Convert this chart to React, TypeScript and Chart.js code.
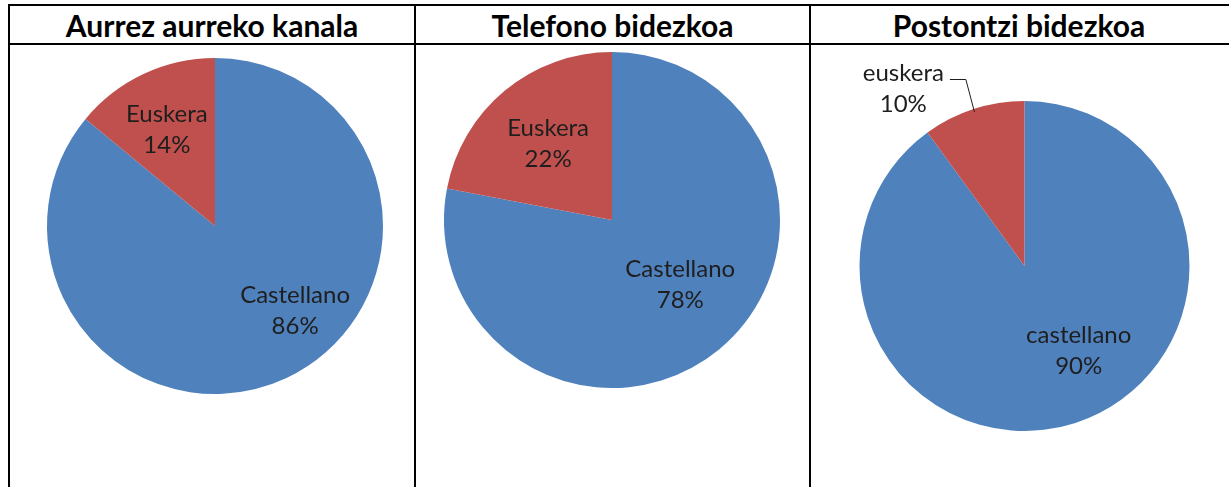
import React, { useEffect, useRef } from "react";
import { Chart, registerables } from "chart.js";

Chart.register(...registerables);

// ---- data ----
const titles = ["Aurrez aurreko kanala", "Telefono bidezkoa", "Postontzi bidezkoa"];
const categories1 = ["Castellano", "Euskera"];
const categories2 = ["Castellano", "Euskera"];
const categories3 = ["castellano", "euskera"];
const values1 = [86, 14];
const values2 = [78, 22];
const values3 = [90, 10];
const sliceColors = ["#4F81BD", "#C0504D"];

// ---- layout ----
const vLines = [8, 414, 809, 1227];
const lineW = 2;
const topLine = 4;
const headLine = 43;
const bodyTop = headLine + lineW;
const pageH = 487;
const labelFont = "Lato, 'DejaVu Sans', sans-serif";

type Placement = { angle: number; frac: number; leader?: boolean };

const pies = [
  {
    categories: categories1,
    values: values1,
    center: [215, 226],
    radius: 168,
    placements: [
      { angle: 136.7, frac: 0.695 },
      { angle: -26.6, frac: 0.64 },
    ] as Placement[],
  },
  {
    categories: categories2,
    values: values2,
    center: [612, 220],
    radius: 168,
    placements: [
      { angle: 133.5, frac: 0.56 },
      { angle: -40.1, frac: 0.59 },
    ] as Placement[],
  },
  {
    categories: categories3,
    values: values3,
    center: [1024.5, 266],
    radius: 165,
    placements: [
      { angle: 147.4, frac: 0.61 },
      { angle: -34.4, frac: 1.3, leader: true },
    ] as Placement[],
  },
];

const sliceLabelPlugin = {
  id: "sliceLabels",
  afterDatasetsDraw(chart: any, _args: any, opts: any) {
    const placements: Placement[] = opts.placements || [];
    const ctx = chart.ctx;
    const meta = chart.getDatasetMeta(0);
    const data: number[] = chart.data.datasets[0].data;
    const total = data.reduce((a, b) => a + b, 0);
    const lh = 31;
    ctx.save();
    ctx.font = `24px ${labelFont}`;
    ctx.fillStyle = "#1e1e1e";
    ctx.textAlign = "center";
    ctx.textBaseline = "middle";
    meta.data.forEach((arc: any, i: number) => {
      const p = placements[i];
      if (!p) return;
      const { x, y, outerRadius, startAngle, endAngle } = arc.getProps(
        ["x", "y", "outerRadius", "startAngle", "endAngle"],
        true
      );
      const a = ((p.angle - 90) * Math.PI) / 180;
      const cx = x + Math.cos(a) * outerRadius * p.frac;
      const cy = y + Math.sin(a) * outerRadius * p.frac;
      const name = chart.data.labels[i];
      const pct = Math.round((data[i] / total) * 100) + "%";
      ctx.fillText(name, cx, cy - lh / 2);
      ctx.fillText(pct, cx, cy + lh / 2);
      if (p.leader) {
        const w = ctx.measureText(name).width;
        const sx = cx + w / 2 + 6;
        const sy = cy - lh / 2 + 6;
        const mid = (startAngle + endAngle) / 2;
        const ex = x + Math.cos(mid) * (outerRadius - 3);
        const ey = y + Math.sin(mid) * (outerRadius - 3);
        ctx.beginPath();
        ctx.strokeStyle = "#1e1e1e";
        ctx.lineWidth = 1;
        ctx.moveTo(sx, sy);
        ctx.lineTo(sx + 16, sy);
        ctx.lineTo(ex, ey);
        ctx.stroke();
      }
    });
    ctx.restore();
  },
};

function PieCell({ idx }: { idx: number }) {
  const ref = useRef<HTMLCanvasElement | null>(null);
  const pie = pies[idx];
  const left = vLines[idx] + lineW;
  const width = vLines[idx + 1] - left;
  const top = bodyTop;
  const height = pageH - top;
  useEffect(() => {
    if (!ref.current) return;
    const [cx, cy] = pie.center;
    const r = pie.radius;
    const chart = new Chart(ref.current, {
      type: "pie",
      data: {
        labels: pie.categories,
        datasets: [
          {
            data: pie.values,
            backgroundColor: sliceColors,
            borderWidth: 0,
            hoverOffset: 0,
          },
        ],
      },
      options: {
        responsive: false,
        animation: false,
        rotation: 0,
        layout: {
          padding: {
            left: cx - r - left,
            top: cy - r - top,
            right: left + width - (cx + r),
            bottom: top + height - (cy + r),
          },
        },
        plugins: {
          legend: { display: false },
          title: { display: false },
          tooltip: { enabled: false },
          sliceLabels: { placements: pie.placements },
        } as any,
      },
      plugins: [sliceLabelPlugin],
    });
    return () => chart.destroy();
  }, []);
  return (
    <canvas
      ref={ref}
      width={width}
      height={height}
      style={{ position: "absolute", left, top, width, height }}
    />
  );
}

export default function App() {
  const lineStyle = { position: "absolute" as const, background: "#000" };
  return (
    <div
      style={{
        position: "fixed",
        left: 0,
        top: 0,
        width: 1229,
        height: pageH,
        background: "#fff",
        overflow: "hidden",
      }}
    >
      {[0, 1, 2].map((i) => (
        <PieCell key={i} idx={i} />
      ))}
      {titles.map((t, i) => {
        const left = vLines[i] + lineW;
        const width = vLines[i + 1] - left;
        return (
          <div
            key={t}
            style={{
              position: "absolute",
              left,
              width,
              top: topLine + lineW,
              height: headLine - topLine - lineW,
              display: "flex",
              alignItems: "center",
              justifyContent: "center",
              fontFamily: "Lato, 'DejaVu Sans', sans-serif",
              fontWeight: 700,
              fontSize: 30,
              color: "#000",
              whiteSpace: "nowrap",
            }}
          >
            {t}
          </div>
        );
      })}
      <div style={{ ...lineStyle, left: vLines[0], top: topLine, width: 1229, height: lineW }} />
      <div style={{ ...lineStyle, left: vLines[0], top: headLine, width: 1229, height: lineW }} />
      {vLines.slice(0, 3).map((x, i) => (
        <div
          key={i}
          style={{ ...lineStyle, left: x, top: topLine, width: lineW, height: pageH - topLine }}
        />
      ))}
    </div>
  );
}
